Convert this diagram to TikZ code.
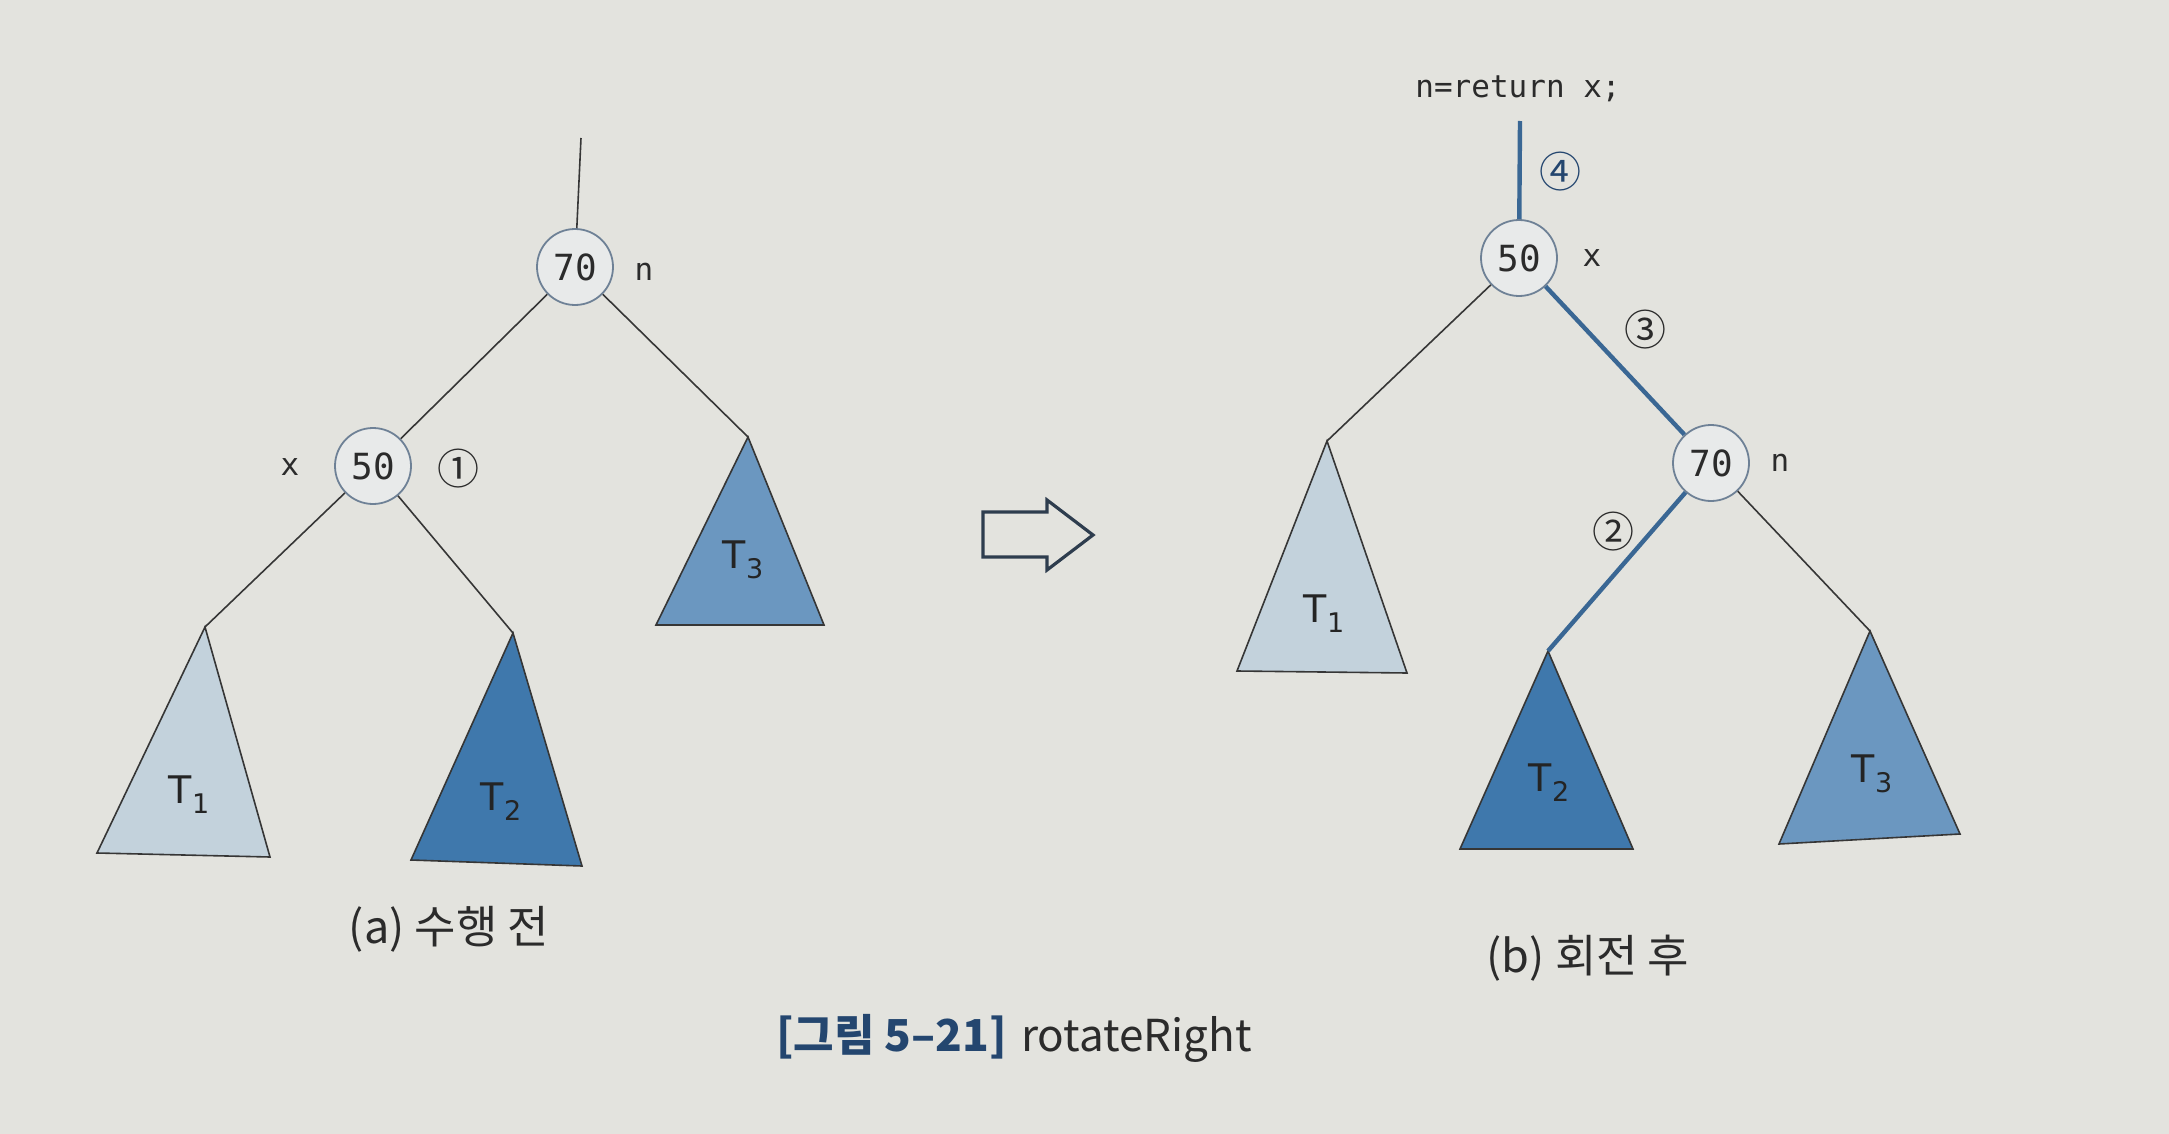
\documentclass[tikz,border=0pt]{standalone}
\usepackage{fontspec}
\setmainfont{DejaVu Sans}
\newfontfamily\monof{DejaVu Sans Mono}
\newfontfamily\krf{Noto Sans CJK KR}
\definecolor{bgc}{HTML}{E3E3DE}
\definecolor{edgec}{HTML}{363636}
\definecolor{bluel}{HTML}{3A6794}
\definecolor{ringc}{HTML}{6E8196}
\definecolor{nodefill}{HTML}{E8EAEA}
\definecolor{tonec}{HTML}{C3D2DC}
\definecolor{ttwoc}{HTML}{3F78AC}
\definecolor{tthreec}{HTML}{6B97C0}
\definecolor{capblue}{HTML}{24466F}
\definecolor{textc}{HTML}{2B2B2B}
\definecolor{arrowc}{HTML}{2E3D4E}
\newcommand{\Tsub}[1]{T\raisebox{-10pt}{\fontsize{27}{27}\selectfont #1}}
\begin{document}
\begin{tikzpicture}[x=1pt,y=-1pt,
  treenode/.style={circle,draw=ringc,line width=1.8pt,fill=nodefill,minimum size=76pt,inner sep=0pt,
    text=textc,font=\monof\fontsize{36}{36}\selectfont},
  side/.style={text=textc,font=\monof\fontsize{31}{31}\selectfont,inner sep=0pt},
  circnum/.style={text=textc,font=\krf\fontsize{42}{42}\selectfont,inner sep=0pt},
  thinedge/.style={draw=edgec,line width=1.6pt},
  blueedge/.style={draw=bluel,line width=4.4pt},
  subtree/.style={draw=edgec,line width=1.6pt,line join=miter},
  tlabel/.style={text=textc!85!black,font=\fontsize{38}{38}\selectfont,inner sep=0pt},
  kcap/.style={text=textc,font=\krf\fontsize{45}{45}\selectfont,inner sep=0pt}
]
\useasboundingbox (0,0) rectangle (2169,1134);
\fill[bgc] (0,0) rectangle (2169,1134);

% ---------------- (a) left tree ----------------
\coordinate (atop) at (581,138);
\node[treenode] (a70) at (575,267) {70};
\node[treenode] (a50) at (373,466) {50};
\node[side] (an) at (644,272) {n};
\node[side] (ax) at (290,467) {x};
\node[circnum] (aone) at (458,469) {①};

\coordinate (at1) at (205,627);
\coordinate (at2) at (513,633);
\coordinate (at3) at (748,437);
\filldraw[subtree,fill=tonec] (at1) -- (97,853) -- (270,857) -- cycle;
\filldraw[subtree,fill=ttwoc] (at2) -- (411,860) -- (582,866) -- cycle;
\filldraw[subtree,fill=tthreec] (at3) -- (656,625) -- (824,625) -- cycle;
\node[tlabel] (alt1) at (189,795) {\Tsub{1}};
\node[tlabel] (alt2) at (501,802) {\Tsub{2}};
\node[tlabel] (alt3) at (743,560) {\Tsub{3}};

\draw[thinedge] (atop) -- (a70);
\draw[thinedge] (a70) -- (a50);
\draw[thinedge] (a70) -- (at3);
\draw[thinedge] (a50) -- (at1);
\draw[thinedge] (a50) -- (at2);

\node[kcap] (acap) at (449,929) {(a) 수행 전};

% ---------------- hollow arrow ----------------
\draw[draw=arrowc,line width=3.2pt,line join=miter,fill=bgc]
  (983,512) -- (1047,512) -- (1047,500) -- (1093,535) -- (1047,570) -- (1047,557) -- (983,557) -- cycle;

% ---------------- (b) right tree ----------------
\node[side] (ret) at (1518,89) {n=return x;};
\coordinate (btop) at (1520,121);
\node[treenode] (b50) at (1519,258) {50};
\node[treenode] (b70) at (1711,463) {70};
\node[side] (bx) at (1592,258) {x};
\node[side] (bn) at (1780,463) {n};
\node[circnum,text=capblue] (bfour) at (1560,172) {④};
\node[circnum] (bthree) at (1645,330) {③};
\node[circnum] (btwo) at (1613,532) {②};

\coordinate (bt1) at (1327,441);
\coordinate (bt2) at (1548,651);
\coordinate (bt3) at (1870,631);
\filldraw[subtree,fill=tonec] (bt1) -- (1237,671) -- (1407,673) -- cycle;
\filldraw[subtree,fill=ttwoc] (bt2) -- (1460,849) -- (1633,849) -- cycle;
\filldraw[subtree,fill=tthreec] (bt3) -- (1779,844) -- (1960,834) -- cycle;
\node[tlabel] (blt1) at (1324,614) {\Tsub{1}};
\node[tlabel] (blt2) at (1549,783) {\Tsub{2}};
\node[tlabel] (blt3) at (1872,774) {\Tsub{3}};

\draw[blueedge] (btop) -- (b50);
\draw[blueedge] (b50) -- (b70);
\draw[blueedge] (b70) -- (bt2);
\draw[thinedge] (b50) -- (bt1);
\draw[thinedge] (b70) -- (bt3);

\node[kcap] (bcap) at (1588,958) {(b) 회전 후};

% ---------------- caption ----------------
\node[inner sep=0pt,font=\krf\fontsize{44}{44}\selectfont] (fig) at (1014,1038)
  {\textcolor{capblue}{\bfseries [그림 5–21]}\hspace{14pt}\textcolor{textc}{rotateRight}};
\end{tikzpicture}
\end{document}
